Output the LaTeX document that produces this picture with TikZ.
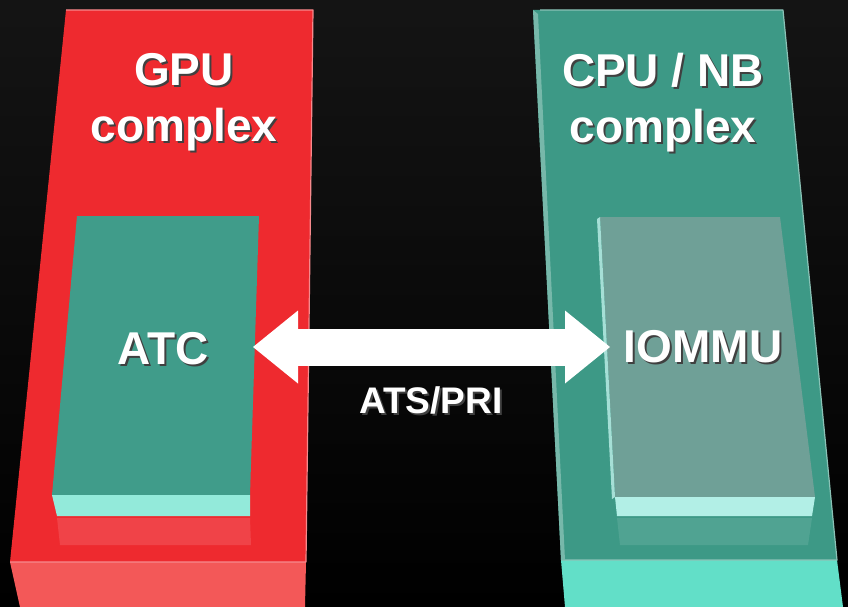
\documentclass[tikz,border=0pt]{standalone}
\usepackage{fontspec}
\setmainfont{Liberation Sans}
\usetikzlibrary{arrows.meta}

\definecolor{gputop}{HTML}{EE2A2F}
\definecolor{gpufront}{HTML}{F35858}
\definecolor{cputop}{HTML}{3D9986}
\definecolor{cpufront}{HTML}{62DFC8}
\definecolor{atctop}{HTML}{409C8A}
\definecolor{atcfront}{HTML}{93EADA}
\definecolor{iommutop}{HTML}{6FA097}
\definecolor{iommufront}{HTML}{B2EFE6}

\newcommand{\shtxt}[1]{\rlap{\kern2pt\raisebox{-2pt}{\textcolor{black!75}{#1}}}#1}

\begin{document}
\begin{tikzpicture}[
		x=1pt, y=-1pt,
		label/.style={text=white, align=center, inner sep=0pt, font=\bfseries\fontsize{46}{56}\selectfont},
		glint/.style={line width=1.2pt, line join=round},
		link/.style={white, line width=37pt, {Triangle[length=45pt, width=73pt, line width=0pt]}-{Triangle[length=45pt, width=73pt, line width=0pt]}},
	]
		% backdrop
		\shade[top color=black!92!white, bottom color=black] (0,0) rectangle (848,607);
		\useasboundingbox (0,0) rectangle (848,607);

		% GPU complex slab
		\fill[gputop] (66,10) -- (313,10) -- (306,562) -- (10,562) -- cycle;
		\fill[gpufront] (10,562) -- (306,562) -- (305,607) -- (20,607) -- cycle;
		\draw[glint, gputop!55!white] (66,10) -- (313,10) -- (306,562) -- (10,562);
		\fill[white, opacity=0.12] (57,518) -- (250,518) -- (251,545) -- (60,545) -- cycle;

		% CPU / NB complex slab
		\fill[cputop] (533,10) -- (783,10) -- (837,560) -- (561,560) -- cycle;
		\fill[cpufront] (561,560) -- (837,560) -- (843,607) -- (565,607) -- cycle;
		\draw[glint, cputop!60!white] (540,10) -- (783,10) -- (837,560) -- (561,560);
		\fill[cputop!70!white] (533,10) -- (538,14) -- (565,560) -- (561,560) -- cycle;
		\fill[white, opacity=0.1] (617,518) -- (812,518) -- (808,545) -- (620,545) -- cycle;

		% ATC block
		\fill[atctop] (77,216) -- (259,216) -- (250,495) -- (52,495) -- cycle;
		\fill[atcfront] (52,495) -- (250,495) -- (250,516) -- (57,516) -- cycle;

		% IOMMU block
		\fill[iommutop] (600,217) -- (780,217) -- (815,497) -- (615,497) -- cycle;
		\fill[iommufront] (615,497) -- (815,497) -- (812,516) -- (617,516) -- cycle;
		\fill[iommufront!80!iommutop] (597,219) -- (600,217) -- (615,497) -- (612,499) -- cycle;

		% texts
		\node[label, anchor=north] (gpu) at (184,53) {\shtxt{GPU}\\\shtxt{complex}};
		\node[label, anchor=north] (cpu) at (663,53) {\shtxt{CPU / NB}\\\shtxt{complex}};
		\node[label, anchor=base] (atc) at (163,364) {\shtxt{ATC}};
		\node[label, anchor=base] (iommu) at (703,362) {\shtxt{IOMMU}};
		\node[label, anchor=base, font=\bfseries\fontsize{37}{44}\selectfont] (atspri) at (431,413) {\shtxt{ATS/PRI}};

		% ATS/PRI link
		\coordinate (atcside) at (253,347);
		\coordinate (iommuside) at (610,347);
		\draw[link] (atcside) -- (iommuside);
	\end{tikzpicture}
\end{document}
